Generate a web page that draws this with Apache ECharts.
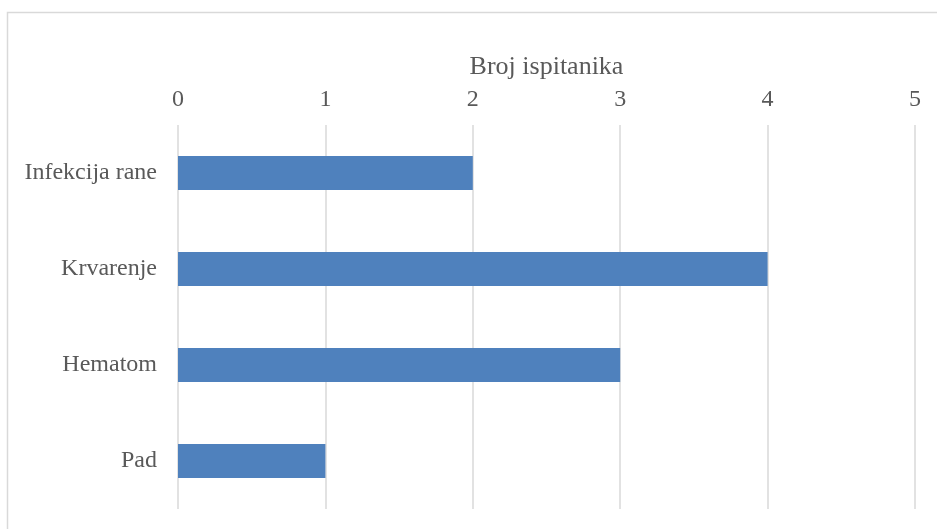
<!DOCTYPE html>
<html>
<head>
<meta charset="utf-8">
<script src="https://cdn.jsdelivr.net/npm/echarts@6/dist/echarts.min.js"></script>
<style>
html,body{margin:0;padding:0;background:#fff;}
#c{width:937px;height:529px;}
</style>
</head>
<body>
<div id="c"></div>
<script>
const categories = ["Infekcija rane", "Krvarenje", "Hematom", "Pad"];
const values = [2, 4, 3, 1];
const axisName = "Broj ispitanika";
const xMin = 0, xMax = 5, xStep = 1;

const chart = echarts.init(document.getElementById('c'), null, {renderer: 'canvas'});
const font = '"Liberation Serif", "Times New Roman", serif';
chart.setOption({
  animation: false,
  backgroundColor: '#fff',
  graphic: [{
    type: 'rect',
    shape: {x: 7.5, y: 12.5, width: 940, height: 530},
    style: {fill: 'none', stroke: '#d9d9d9', lineWidth: 1.5},
    silent: true
  }],
  grid: {left: 178, right: 22, top: 125, bottom: 20, containLabel: false},
  xAxis: {
    type: 'value', position: 'top', min: xMin, max: xMax, interval: xStep,
    name: axisName, nameLocation: 'middle', nameGap: 45,
    nameTextStyle: {fontFamily: font, fontSize: 26, color: '#595959'},
    axisLine: {show: false}, axisTick: {show: false},
    axisLabel: {fontFamily: font, fontSize: 24, color: '#595959', margin: 13},
    splitLine: {show: true, lineStyle: {color: '#d9d9d9', width: 1.5}}
  },
  yAxis: {
    type: 'category', data: categories, inverse: true,
    axisLine: {show: false}, axisTick: {show: false},
    axisLabel: {fontFamily: font, fontSize: 24, color: '#595959', margin: 21},
    splitLine: {show: false}
  },
  series: [{
    type: 'bar', data: values, barWidth: 34,
    itemStyle: {color: '#4f81bd'}
  }]
});
</script>
</body>
</html>
